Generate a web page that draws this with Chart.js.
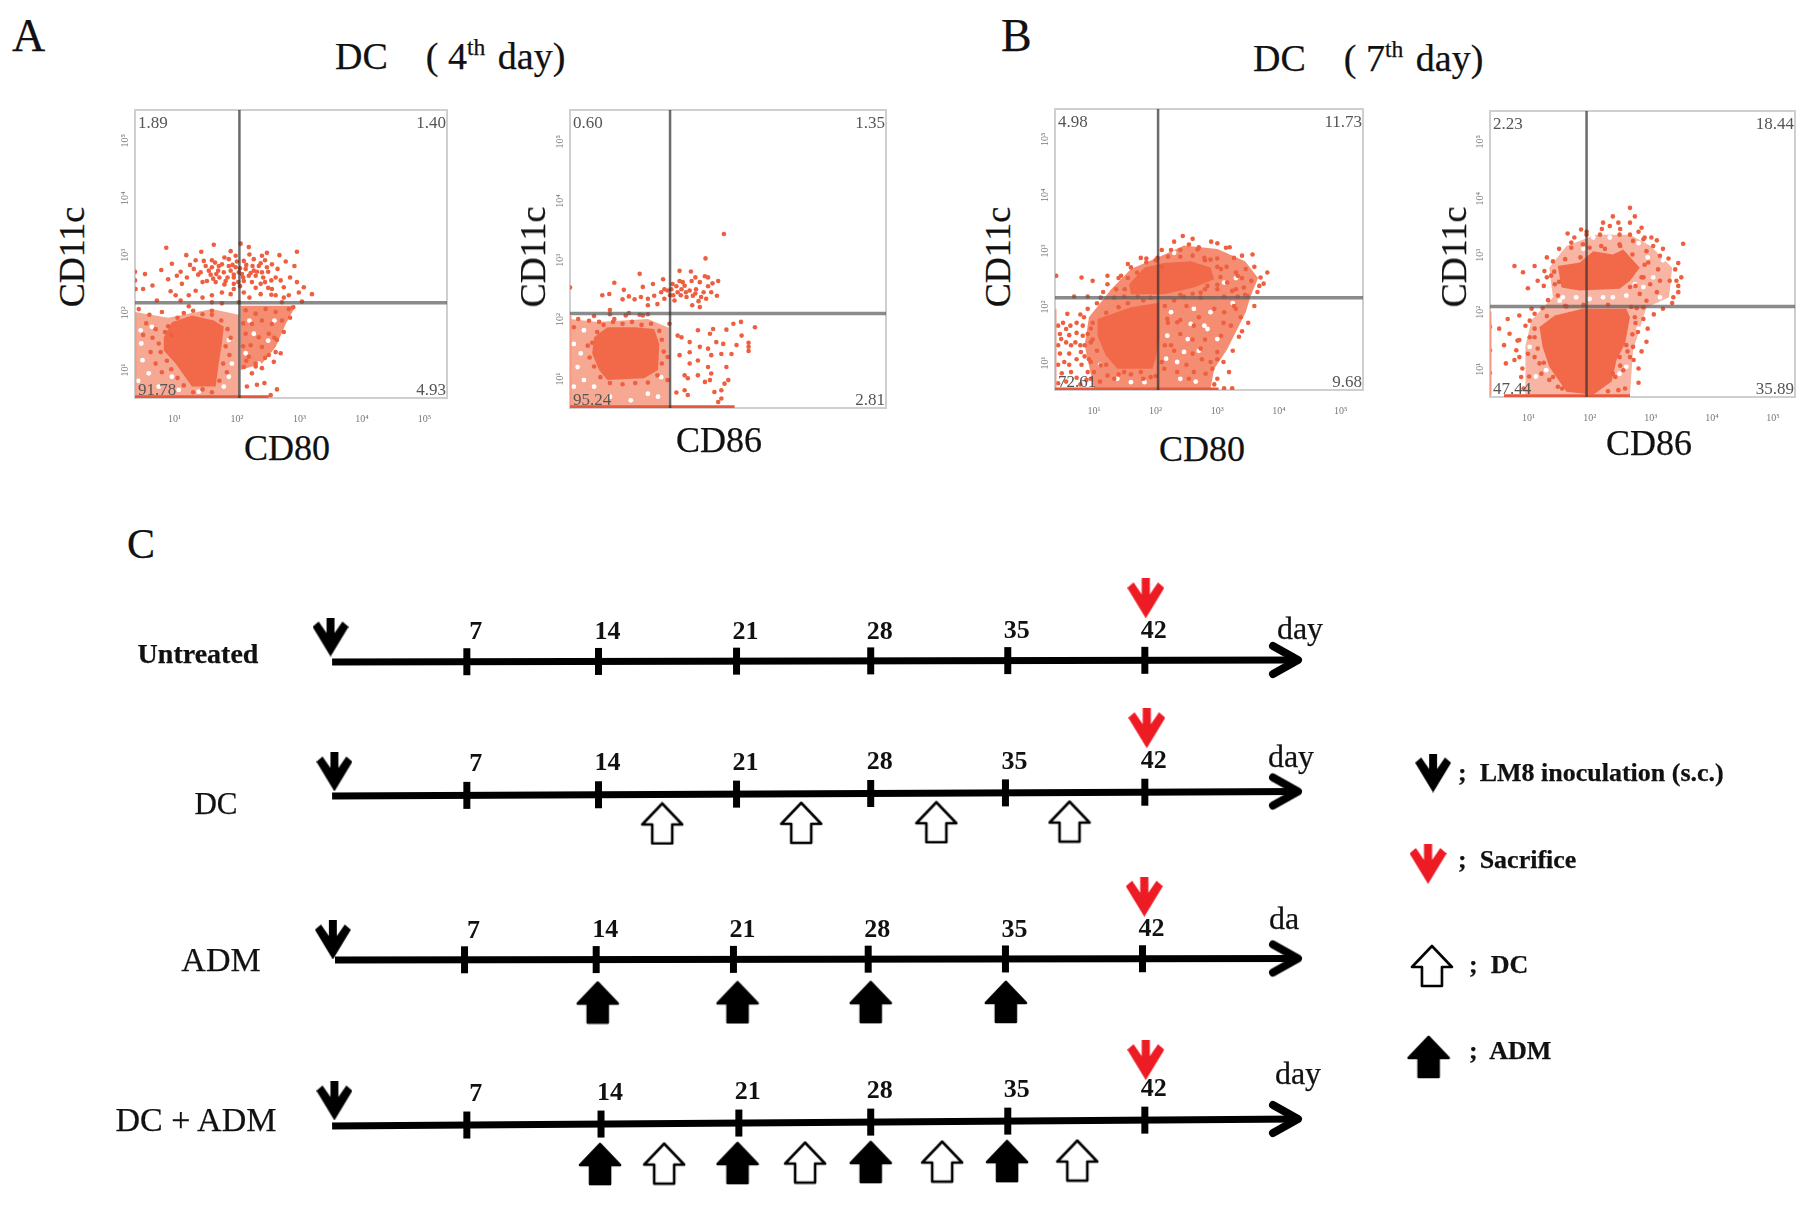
<!DOCTYPE html>
<html>
<head>
<meta charset="utf-8">
<title>DC phenotype and treatment schedule</title>
<script src="https://cdn.jsdelivr.net/npm/chart.js@4"></script>
<style>
  html, body { margin: 0; padding: 0; background: #fff; }
  body { position: relative; width: 1817px; height: 1220px; overflow: hidden; filter: blur(0.6px); }
  canvas { position: absolute; }
  .t { position: absolute; font-family: "Liberation Serif", serif; color: #111; line-height: 1; white-space: pre; -webkit-text-stroke: 0.25px #111; }
  .t sup { font-size: 62%; line-height: 0; margin-right: 3px; }
</style>
</head>
<body>
<script>
// flow plots: all values are log10 fluorescence
var decadeTicks = [1, 2, 3, 4, 5];
var decadeLabels = ["10¹", "10²", "10³", "10⁴", "10⁵"];

var a1Quadrants = ["1.89", "1.40", "91.78", "4.93"];
var a2Quadrants = ["0.60", "1.35", "95.24", "2.81"];
var b1Quadrants = ["4.98", "11.73", "72.61", "9.68"];
var b2Quadrants = ["2.23", "18.44", "47.44", "35.89"];

var a1Gate = [2.04, 2.06];
var a2Gate = [1.95, 1.99];
var b1Gate = [2.04, 2.05];
var b2Gate = [1.95, 1.99];

var a1Core = [[.83,1.46],[.96,1.72],[1.28,1.84],[1.63,1.75],[1.79,1.64],[1.76,1.35],[1.71,1.0],[1.66,.6],[1.28,.6],[1.02,1.0],[.83,1.23],[.83,1.46]];
var a1Pale = [[.37,.4],[2.03,.4],[2.03,1.85],[1.6,1.95],[.9,1.8],[.37,1.9],[.37,.4]];
var a1Wing = [[2.06,2.01],[2.94,2.01],[2.78,1.69],[2.62,1.29],[2.4,1.0],[2.06,.89],[2.06,2.01]];
var a1Gaps = [[.46,1.58],[.47,1.35],[.49,1.06],[.64,1.64],[.59,.83],[.75,.6],[.96,.77],[1.87,1.41],[1.92,1.0],[1.87,.77],[1.79,.6],[1.39,.51],[1.07,.54],[2.14,1.18],[2.35,1.0],[2.27,1.52],[2.6,1.75],[2.5,1.4],[2.2,1.75],[.42,.7]];
var a1Events = [[.87,3.02],[1.19,2.89],[1.43,2.95],[1.63,3.07],[1.9,2.96],[2.06,3.09],[2.19,3.03],[2.48,2.93],[2.68,2.89],[2.96,2.95],
  [.79,2.63],[.96,2.74],[1.34,2.8],[1.47,2.79],[1.65,2.76],[1.76,2.73],[1.87,2.82],[1.98,2.88],[2.11,2.79],[2.27,2.82],[2.4,2.88],[2.56,2.73],[2.78,2.78],[2.92,2.7],
  [.53,2.56],[.65,2.36],[.9,2.47],[1.04,2.53],[1.2,2.5],[1.31,2.65],[1.42,2.59],[1.55,2.62],[1.67,2.56],[1.79,2.59],[1.9,2.62],[2.03,2.59],[2.14,2.65],[2.27,2.62],[2.4,2.59],[2.48,2.68],[2.62,2.5],[2.96,2.42],
  [.94,2.26],[1.12,2.39],[1.34,2.27],[1.52,2.44],[1.66,2.42],[1.82,2.44],[1.95,2.39],[2.11,2.44],[2.24,2.42],[2.38,2.39],[2.56,2.3],[2.75,2.33],[3.07,2.33],[3.2,2.21],
  [1.02,2.19],[1.23,2.19],[1.6,2.19],[1.76,2.24],[1.9,2.21],[2.11,2.24],[2.38,2.21],[2.62,2.19],[2.83,2.19],[2.99,2.24],[.72,2.1],[1.6,2.07],[1.76,2.05],[2.03,2.07],[2.72,2.07],[3.04,2.08],
  [1.71,2.7],[1.87,2.7],[1.98,2.68],[1.6,2.68],[2.35,2.7],[2.3,2.53],[2.08,2.56],[2.19,2.53],
  [1.5,2.7],[1.58,2.55],[1.7,2.62],[1.72,2.5],[1.85,2.5],[1.93,2.72],[1.95,2.55],[2.0,2.78],[2.05,2.66],[2.1,2.5],[2.15,2.72],[2.22,2.58],[2.25,2.7],[2.32,2.6],[2.38,2.75],[2.42,2.5],[2.5,2.6],[2.55,2.45],[1.8,2.38],[1.62,2.48],[1.95,2.3],[2.05,2.35],[2.3,2.32],[2.5,2.32],
  [1.1,2.6],[1.25,2.72],[1.38,2.55],[1.45,2.42],[1.6,2.8],[1.8,2.85],[2.2,2.9],[2.45,2.8],[2.65,2.65],[2.7,2.45],[2.85,2.5],[2.45,2.42],[2.55,2.2],[2.75,2.15],[2.2,2.15],[1.45,2.15],[1.1,2.1],[.5,2.3],[1.95,2.5],[2.02,2.42],
  [2.64,1.41],[2.59,1.03],[2.4,.92],[2.24,.83],[2.16,.6],[2.32,.63],[2.44,.66],[2.64,.55],[2.11,.94],[2.54,.45],[2.3,1.0],[2.19,1.12],[2.51,1.15],[2.7,1.18],
  [2.14,1.93],[2.3,1.87],[2.46,1.95],[2.62,1.9],[2.83,1.95],[2.24,1.69],[2.4,1.75],[2.56,1.69],[2.14,1.52],[2.35,1.46],[2.51,1.52],[2.22,1.32],[2.4,1.29],
  [2.9,1.98],[2.85,1.8],[2.72,1.75],[2.75,1.55],[2.6,1.45],[2.62,1.2],[2.45,1.1],[2.3,.95],[2.15,1.05],[2.1,1.7],[2.1,1.3],
  [.85,1.55],[.9,1.65],[1.05,1.8],[1.15,1.88],[1.3,1.92],[1.45,1.86],[1.6,1.85],[1.75,1.75],[1.85,1.6],[1.9,1.45],[1.82,1.3],[1.88,1.15],[1.78,1.0],[1.84,.85],[1.72,.7],[1.6,.5],[1.45,.55],[1.3,.5],[1.15,.62],[1.05,.75],[.95,.9],[.88,1.05],[.78,1.2],[.75,1.35],[.95,1.5],[.7,1.6],[.65,1.45],[.62,1.2],[.7,1.0],[.8,.85],[.55,1.7],[.5,1.5],
  [.37,2.6],[.37,2.45],[.38,2.3],[.43,1.95],[.6,1.85],[.8,1.9],[1.23,2.0],[1.6,1.92]];
var a1Strip = [[.37,.42],[2.51,.42]];
var a1Edge = [[.37,.42],[.37,1.9]];

var a2Core = [[.75,1.59],[.96,1.76],[1.39,1.76],[1.7,1.73],[1.78,1.48],[1.76,1.04],[1.54,.9],[.96,.87],[.83,1.04],[.72,1.32],[.75,1.59]];
var a2Pale = [[.37,.4],[1.93,.4],[1.93,1.75],[1.6,1.9],[.8,1.85],[.37,1.9],[.37,.4]];
var a2Gaps = [[.43,1.48],[.49,1.09],[.43,.76],[.59,.87],[.75,.76],[1.0,.59],[1.33,.53],[1.6,.64],[1.76,.59],[.59,1.71],[1.81,.92],[.54,1.32]];
var a2Events = [[2.8,3.33],[2.51,2.92],[1.47,2.66],[1.07,2.51],[1.22,2.39],[.88,2.3],[.99,2.32],[1.2,2.23],[.37,2.43],[1.68,2.49],[1.52,2.44],[1.39,2.23],[1.49,2.27],[1.6,2.24],[1.7,2.29],[1.84,2.57],[1.81,2.35],[1.86,2.24],[1.91,2.38],[1.99,2.49],[2.1,2.71],[2.28,2.7],[2.1,2.54],[2.18,2.46],[2.29,2.54],[2.42,2.52],[2.55,2.6],[2.71,2.54],[2.07,2.35],[2.21,2.27],[2.31,2.29],[2.44,2.27],[2.52,2.24],[2.69,2.29],[2.02,2.21],[2.3,2.13],[2.42,2.1],[1.6,2.13],[1.47,1.97],[1.97,2.4],[2.13,2.4],[2.26,2.38],[2.36,2.4],[1.86,2.4],
  [2.0,2.3],[2.12,2.3],[2.2,2.35],[2.35,2.33],[2.4,2.2],[2.48,2.35],[2.55,2.45],[2.6,2.35],[1.95,2.3],[2.05,2.45],[2.15,2.52],[2.35,2.6],[2.5,2.62],[2.62,2.5],[1.75,2.15],[1.3,2.28],[1.0,2.05],
  [2.07,1.62],[2.13,1.59],[2.26,1.51],[2.39,1.71],[2.58,1.65],[2.63,1.73],[2.84,1.72],[2.95,1.82],[3.07,1.85],[3.08,1.62],[3.29,1.76],[3.19,1.43],[3.0,1.46],[2.79,1.48],[2.68,1.51],[2.55,1.4],[2.42,1.43],[2.26,1.34],[2.1,1.29],[2.26,1.15],[2.39,1.2],[2.76,1.31],[2.92,1.31],[2.6,1.29],[2.55,1.09],[2.6,.98],[2.84,1.09],[2.87,.87],[2.81,.81],[2.5,.84],[2.58,.87],[2.39,.95],[2.18,.95],[2.23,.9],[2.05,.66],[2.18,.7],[2.23,.62],[2.65,.67],[2.76,.7],[2.71,.5],[2.76,.56],
  [.67,1.87],[.83,1.85],[1.07,1.9],[1.25,1.96],[1.52,1.96],[.43,1.76],[1.94,1.82],[1.91,1.26],[1.91,.87],[3.19,1.5],[3.19,1.36],
  [.72,1.5],[.8,1.68],[.9,1.8],[1.05,1.85],[1.2,1.82],[1.35,1.85],[1.5,1.8],[1.65,1.82],[1.78,1.7],[1.82,1.55],[1.85,1.35],[1.82,1.15],[1.75,.95],[1.6,.83],[1.4,.82],[1.2,.8],[1.0,.82],[.85,.92],[.75,1.1],[.68,1.25],[.65,1.45],[.5,1.9],[.75,1.95],[1.0,1.98],[1.3,2.0],[1.6,1.98]];
var a2Strip = [[.37,.42],[2.97,.42]];
var a2Edge = [[.37,.42],[.37,1.95]];

var b1CoreLow = [[1.06,1.67],[1.6,1.88],[2.06,1.96],[2.06,1.31],[2.0,.96],[1.95,.78],[1.38,.78],[1.19,1.02],[1.06,1.37],[1.06,1.67]];
var b1CoreHigh = [[1.57,2.29],[1.82,2.59],[2.14,2.67],[2.57,2.7],[2.89,2.59],[2.95,2.38],[2.62,2.23],[2.14,2.11],[1.6,2.11],[1.57,2.29]];
var b1Pale = [[1.0,.43],[2.89,.43],[2.95,.78],[3.16,1.13],[3.46,1.79],[3.54,2.08],[3.66,2.4],[3.45,2.7],[3.0,2.92],[2.46,2.98],[2.08,2.79],[1.6,2.56],[1.28,2.2],[.92,1.7],[.85,1.2],[1.0,.43]];
var b1Gaps = [[2.57,1.58],[2.79,1.55],[2.19,1.37],[2.46,1.08],[2.35,.9],[2.17,.96],[2.52,1.31],[2.89,1.79],[2.84,1.49],[3.11,2.32],[2.79,2.44],[3.0,1.31],[2.62,1.85],[2.25,1.79],[1.38,.6],[1.6,.54],[1.82,.54],[2.7,1.1],[2.4,.6],[2.65,.55],[3.25,1.95],[3.3,2.4],[2.3,2.85],[1.1,.85]];
var b1Events = [[2.44,3.15],[2.54,3.0],[2.68,2.91],[3.0,3.02],[3.14,2.94],[3.57,2.82],[3.81,2.5],[3.7,2.41],[3.68,2.26],[3.46,2.56],[3.33,2.44],[3.43,2.23],[3.27,2.76],[2.89,2.73],[2.79,2.76],[2.25,2.9],[2.03,2.76],[1.76,2.76],[1.6,2.59],[1.44,2.44],[1.22,2.44],[.98,2.35],[.8,2.41],[1.22,2.29],[1.36,2.2],[.39,2.44],
  [.68,2.07],[.9,2.07],[1.11,2.05],[1.33,2.05],[1.49,2.07],[1.71,2.07],[1.92,2.05],[2.46,2.07],[2.73,2.05],[3.11,2.07],[3.33,2.07],[3.49,2.08],
  [3.06,2.56],[3.16,2.32],[3.24,2.17],[3.0,2.2],[2.84,2.26],[2.73,2.14],[3.27,1.9],[3.38,1.7],[3.11,1.79],[2.95,1.85],[3.22,1.55],[3.06,1.37],[3.0,1.08],[2.89,.9],[2.73,1.14],[2.62,1.55],[2.35,1.61],[2.19,1.67],[2.25,1.2],[2.14,.78],[2.35,.72],[3.19,.72],[2.92,.78],[2.62,.72],[2.54,.6],[2.81,.69],[3.11,.43],[3.24,.43],
  [.57,1.76],[.84,1.7],[.55,1.49],[.82,1.37],[.95,1.25],[.63,1.2],[.47,1.31],[.79,1.08],[.52,.9],[1.11,.84],[.9,.72],[1.22,.66],[1.33,.6],[1.49,.72],[1.76,.72],[1.92,.63],[.63,.72],
  [1.5,2.2],[1.55,2.4],[1.7,2.5],[1.85,2.68],[2.0,2.72],[2.2,2.78],[2.4,2.78],[2.6,2.8],[2.8,2.72],[3.0,2.6],[3.05,2.42],[3.0,2.28],[2.8,2.2],[2.6,2.12],[2.4,2.1],[3.15,2.6],[3.3,2.5],[3.4,2.4],[3.3,2.2],[3.45,2.1],[3.0,2.75],[2.7,2.95],[2.4,2.9],[2.1,2.6],
  [.98,1.6],[1.2,1.78],[1.4,1.88],[1.55,1.95],[1.8,2.0],[2.15,1.9],[2.2,1.6],[2.15,1.2],[2.1,.9],[2.0,.65],[1.8,.6],[1.6,.68],[1.4,.68],[1.2,.85],[1.05,1.1],[.98,1.3],[.95,1.5],
  [2.3,2.0],[2.5,1.9],[2.4,1.65],[2.7,1.7],[2.6,1.3],[2.4,1.4],[2.8,1.3],[2.3,1.1],[2.6,1.05],[2.75,.95],[2.5,.85],[3.1,1.6],[3.3,1.85],
  [3.0,.6],[3.1,.9],[3.25,1.1],[3.35,1.35],[3.5,1.6],[3.6,1.9],[3.65,2.15],[3.75,2.3],[3.6,2.6],[3.4,2.8],[3.2,2.95],[2.9,3.05],[2.6,3.1],[2.3,3.05],[2.1,2.9],[1.85,2.75],[1.55,2.65],[1.4,2.4],[1.15,2.15],[1.05,1.95],[.9,1.85],[.78,1.75],[.9,1.4],[.78,1.2],[.92,.95],[.95,.6],[2.95,.5],[3.0,.95],[3.4,1.45],[3.55,2.35],
  [.42,1.55],[.5,1.6],[.62,1.55],[.72,1.6],[.82,1.55],[.45,1.4],[.6,1.38],[.72,1.42],[.42,1.2],[.55,1.25],[.7,1.25],[.85,1.2],[.45,1.05],[.6,1.05],[.72,.95],[.85,1.0],[.42,.85],[.6,.85],[.8,.85],[.95,.9],[.48,.7],[.72,.62],[.88,.58],[.55,.55],[1.0,.72],[1.1,.55],[.42,.52],[.78,.5]];
var b1Strip = [[.37,.42],[3.02,.42]];
var b1Edge = [[.37,.42],[.37,1.85]];

var b2CoreLow = [[1.18,1.63],[1.43,1.83],[1.89,1.95],[2.6,1.95],[2.66,1.8],[2.58,1.34],[2.44,1.05],[2.36,.67],[2.06,.44],[1.62,.49],[1.34,.93],[1.23,1.28],[1.18,1.63]];
var b2CoreHigh = [[1.48,2.7],[1.84,2.76],[2.06,2.96],[2.38,2.9],[2.55,2.99],[2.82,2.67],[2.66,2.44],[2.49,2.3],[1.84,2.27],[1.54,2.32],[1.48,2.7]];
var b2Pale = [[.95,.44],[2.66,.44],[2.71,1.22],[2.93,1.97],[3.3,2.15],[3.35,2.67],[3.0,3.05],[2.66,3.25],[2.1,3.25],[1.62,3.05],[1.34,2.67],[1.4,2.15],[1.05,1.75],[.95,1.3],[.95,.44]];
var b2Gaps = [[1.56,2.15],[1.78,2.15],[2.0,2.12],[2.22,2.15],[2.38,2.15],[2.6,2.18],[1.51,2.09],[2.06,3.2],[2.33,3.2],[1.73,3.2],[2.74,2.38],[3.04,2.5],[2.88,2.33],[1.12,.76],[1.29,.87],[2.49,.81],[1.02,1.28],[2.6,.93],[2.8,3.1],[3.2,2.8],[1.9,3.0],[3.15,2.15],[2.95,2.85],[2.8,1.6]];
var b2Events = [[2.66,3.72],[2.74,3.57],[2.38,3.57],[2.22,3.46],[2.33,3.4],[2.47,3.46],[2.66,3.46],[2.85,3.37],[1.64,3.27],[1.86,3.34],[1.95,3.25],[2.17,3.25],[2.49,3.25],[2.66,3.25],[3.01,3.2],[3.53,3.09],[1.7,3.11],[1.89,3.08],[2.19,3.05],[2.49,3.08],[2.71,3.14],[2.88,3.17],[3.04,3.05],[2.93,2.96],[3.29,2.83],[3.15,2.88],[2.96,2.76],[3.4,2.64],[3.12,2.64],[3.31,2.44],[3.42,2.44],[3.15,2.44],[3.45,2.24],[3.37,2.15],[3.1,2.24],[2.99,2.38],[2.88,2.5],[2.82,2.21],[2.66,2.33],[2.93,2.09],[.77,2.7],[.91,2.59],[1.1,2.7],[1.26,2.61],[1.15,2.44],[.99,2.31],[1.37,2.53],[1.43,2.38],[1.48,2.18],
  [1.23,1.96],[1.62,1.99],[2.77,1.96],[2.88,1.97],
  [2.74,1.8],[2.88,1.77],[2.79,1.54],[2.93,1.37],[2.6,1.31],[2.66,1.1],[2.49,1.1],[2.55,.87],[2.38,.81],[2.58,.55],[2.47,.52],[2.71,1.28],
  [.85,1.83],[.66,1.77],[.52,1.6],[1.02,1.74],[1.1,1.86],[.69,1.51],[.82,1.39],[.6,1.31],[1.02,1.45],[.8,1.22],[.99,1.16],[.63,.99],[.77,1.05],[1.1,1.1],[.9,.9],[1.01,.76],[1.21,.81],[1.34,.7],[1.48,.58],[1.18,.99],[.37,1.63],[.37,1.22],[.37,.82],
  [1.42,2.6],[1.4,2.78],[1.6,2.82],[1.85,2.85],[2.0,3.02],[2.25,3.0],[2.5,3.05],[2.7,2.9],[2.9,2.72],[2.85,2.5],[2.75,2.35],[1.5,2.42],[1.3,2.5],
  [1.1,1.6],[1.3,1.82],[1.6,2.0],[1.9,2.02],[2.3,2.02],[2.68,1.98],[2.75,1.7],[2.7,1.5],[2.62,1.2],[2.5,.95],[2.42,.75],[2.3,.5],[1.55,.55],[1.4,.75],[1.25,1.0],[1.15,1.25],[1.1,1.45],
  [2.8,.9],[2.85,1.2],[2.95,1.6],[3.05,1.85],[3.35,2.05],[3.45,2.35],[3.45,2.75],[3.2,3.0],[3.1,3.15],[2.8,3.3],[2.5,3.35],[2.2,3.35],[1.95,3.3],[1.75,3.2],[1.5,3.0],[1.3,2.85],[1.25,2.35],[1.32,2.1],[1.05,1.95],[.95,1.65],[.85,1.4],[.85,1.1],[.88,.75],[.92,.55],[2.8,.65],[2.72,1.05],[3.2,1.95],[3.5,2.5],[2.9,3.2],[1.7,3.02]];
var b2Strip = [[.6,.42],[2.66,.42]];
var b2Edge = [[.37,.42],[.37,1.9]];

// treatment schedule, values in days
var laneNames = ["Untreated", "DC", "ADM", "DC + ADM"];
var dayLabels = ["7", "14", "21", "28", "35", "42"];
var untreatedTicks = [6.98, 13.8, 20.95, 27.9, 35.0, 42.1];
var dcTicks = [6.98, 13.8, 20.95, 27.9, 34.88, 42.1];
var admTicks = [6.86, 13.68, 20.79, 27.77, 34.88, 41.98];
var comboTicks = [6.98, 13.93, 21.07, 27.9, 35.0, 42.1];
var inoculationDays = [-0.08, 0.12, 0.04, 0.12];
var sacrificeDays = [42.15, 42.2, 42.07, 42.15];
var dcOnlyDoses = [17.1, 24.3, 31.3, 38.2];
var comboDcDoses = [17.2, 24.5, 31.6, 38.6];
var admOnlyDoses = [13.76, 21.0, 27.9, 34.9];
var comboAdmDoses = [13.88, 21.0, 27.9, 34.96];

// layout
var RED = "#f2694a";
var SERIF = '"Liberation Serif", serif';
var xRange = [0.37, 5.36];
var yRange = [0.4, 5.42];
var pad = 6;

function addText(html, x, y, size, weight, anchor, rotate) {
  var el = document.createElement("div");
  el.className = "t";
  el.innerHTML = html;
  el.style.left = x + "px";
  el.style.top = y + "px";
  el.style.fontSize = size + "px";
  if (weight) el.style.fontWeight = weight;
  el.style.transform = anchor === "c" ? "translate(-50%,-50%)" + (rotate ? " rotate(-90deg)" : "") : "translateY(-50%)";
  document.body.appendChild(el);
}

function addCanvas(x, y, w, h) {
  var c = document.createElement("canvas");
  c.width = w;
  c.height = h;
  c.style.left = x + "px";
  c.style.top = y + "px";
  document.body.appendChild(c);
  return c;
}

function toPoints(list) {
  return list.map(function (p) { return { x: p[0], y: p[1] }; });
}

function region(list, color, order) {
  return { data: toPoints(list), showLine: true, fill: "shape", backgroundColor: color, borderWidth: 0, pointRadius: 0, order: order };
}

var framePlugin = {
  id: "frame",
  beforeDatasetsDraw: function (chart) {
    var a = chart.chartArea;
    var ctx = chart.ctx;
    ctx.save();
    ctx.strokeStyle = "#cfcfcf";
    ctx.lineWidth = 2;
    ctx.strokeRect(a.left, a.top, a.right - a.left, a.bottom - a.top);
    ctx.restore();
  }
};

var quadrantPlugin = {
  id: "quadrants",
  afterDatasetsDraw: function (chart, args, opts) {
    var a = chart.chartArea;
    var ctx = chart.ctx;
    ctx.save();
    ctx.font = "17px " + SERIF;
    ctx.fillStyle = "#555";
    ctx.textBaseline = "alphabetic";
    ctx.textAlign = "left";
    ctx.fillText(opts.labels[0], a.left + 3, a.top + 18);
    ctx.fillText(opts.labels[2], a.left + 3, a.bottom - 3);
    ctx.textAlign = "right";
    ctx.fillText(opts.labels[1], a.right - 1, a.top + 18);
    ctx.fillText(opts.labels[3], a.right - 1, a.bottom - 3);
    ctx.restore();
  }
};

function flowPlot(p) {
  var axisW = 28, axisH = 28;
  var boxW = p.box[2] - p.box[0];
  var boxH = p.box[3] - p.box[1];
  var canvas = addCanvas(p.box[0] - axisW, p.box[1] - pad, axisW + boxW + pad, pad + boxH + axisH);
  var datasets = [];
  p.pale.forEach(function (r) { datasets.push(region(r, p.paleColor, 50)); });
  (p.mid || []).forEach(function (r) { datasets.push(region(r, "#f58d72", 40)); });
  datasets.push({ data: toPoints(p.gaps), pointRadius: 2.4, pointBackgroundColor: "#fff", pointBorderWidth: 0, order: 35 });
  p.core.forEach(function (r) { datasets.push(region(r, RED, 30)); });
  datasets.push({ data: toPoints(p.events), pointRadius: 2.3, pointBackgroundColor: "#ee5f40", pointBorderWidth: 0, order: 20 });
  datasets.push({ data: toPoints(p.strip), showLine: true, borderColor: "#e8583c", borderWidth: 3, pointRadius: 0, order: 15 });
  datasets.push({ data: toPoints(p.edge), showLine: true, borderColor: "#f29a84", borderWidth: 3, pointRadius: 0, order: 16 });
  datasets.push({ data: [{ x: p.gate[0], y: yRange[0] }, { x: p.gate[0], y: yRange[1] }], showLine: true, borderColor: "rgba(50,50,50,.72)", borderWidth: 2.5, pointRadius: 0, order: 10 });
  datasets.push({ data: [{ x: xRange[0], y: p.gate[1] }, { x: xRange[1], y: p.gate[1] }], showLine: true, borderColor: "rgba(90,90,90,.7)", borderWidth: 3.5, pointRadius: 0, order: 10 });

  function axis(range, size, showTicks, rotated) {
    return {
      type: "linear",
      min: range[0],
      max: range[1],
      grid: { display: false },
      border: { display: false },
      afterBuildTicks: function (s) { s.ticks = decadeTicks.map(function (v) { return { value: v }; }); },
      afterFit: function (s) {
        if (rotated) s.width = size; else s.height = size;
      },
      ticks: {
        display: showTicks,
        autoSkip: false,
        color: "#777",
        padding: rotated ? 2 : 7,
        minRotation: rotated ? 90 : 0,
        maxRotation: rotated ? 90 : 0,
        font: { family: SERIF, size: 10 },
        callback: function (v) { return decadeLabels[decadeTicks.indexOf(v)]; }
      }
    };
  }

  new Chart(canvas, {
    type: "scatter",
    data: { datasets: datasets },
    plugins: [framePlugin, quadrantPlugin],
    options: {
      responsive: false,
      animation: false,
      layout: { autoPadding: false, padding: { top: pad, right: pad, left: 0, bottom: 0 } },
      plugins: { legend: { display: false }, tooltip: { enabled: false }, quadrants: { labels: p.quad } },
      scales: {
        x: axis(xRange, axisH, p.xTicks, false),
        y: axis(yRange, axisW, true, true)
      }
    }
  });
}

flowPlot({ box: [135, 108, 447, 398], xTicks: true, quad: a1Quadrants, gate: a1Gate,
  core: [a1Core], pale: [a1Pale], mid: [a1Wing], paleColor: "#f6a893", gaps: a1Gaps, events: a1Events, strip: a1Strip, edge: a1Edge });
flowPlot({ box: [570, 108, 886, 408], xTicks: false, quad: a2Quadrants, gate: a2Gate,
  core: [a2Core], pale: [a2Pale], paleColor: "#f6a893", gaps: a2Gaps, events: a2Events, strip: a2Strip, edge: a2Edge });
flowPlot({ box: [1055, 107, 1363, 390], xTicks: true, quad: b1Quadrants, gate: b1Gate,
  core: [b1CoreLow, b1CoreHigh], pale: [b1Pale], paleColor: "#f58d72", gaps: b1Gaps, events: b1Events, strip: b1Strip, edge: b1Edge });
flowPlot({ box: [1490, 109, 1795, 397], xTicks: true, quad: b2Quadrants, gate: b2Gate,
  core: [b2CoreLow, b2CoreHigh], pale: [b2Pale], paleColor: "#f8b5a3", gaps: b2Gaps, events: b2Events, strip: b2Strip, edge: b2Edge });

addText("CD80", 287, 448, 36, null, "c");
addText("CD86", 719, 440, 36, null, "c");
addText("CD80", 1202, 449, 36, null, "c");
addText("CD86", 1649, 443, 36, null, "c");
addText("CD11c", 72, 257, 36, null, "c", true);
addText("CD11c", 533, 257, 36, null, "c", true);
addText("CD11c", 998, 257, 36, null, "c", true);
addText("CD11c", 1454, 257, 36, null, "c", true);

addText("A", 12, 36, 46);
addText("B", 1001, 36, 46);
addText("C", 127, 544, 42);
addText("DC    ( 4<sup>th</sup> day)", 335, 56, 38);
addText("DC    ( 7<sup>th</sup> day)", 1253, 58, 38);

// arrow glyphs used as point styles
function glyph(w, h, draw) {
  var c = document.createElement("canvas");
  c.width = w;
  c.height = h;
  var g = c.getContext("2d");
  g.lineJoin = "round";
  draw(g, w, h);
  return c;
}

function downArrow(color, w, h) {
  return glyph(w, h, function (g) {
    g.fillStyle = color;
    g.beginPath();
    g.moveTo(w * .5, h);
    g.lineTo(0, h * .24);
    g.lineTo(w * .17, h * .1);
    g.lineTo(w * .39, h * .4);
    g.lineTo(w * .39, 0);
    g.lineTo(w * .61, 0);
    g.lineTo(w * .61, h * .4);
    g.lineTo(w * .83, h * .1);
    g.lineTo(w, h * .24);
    g.closePath();
    g.fill();
  });
}

function upArrow(filled) {
  return glyph(44, 44, function (g) {
    g.beginPath();
    g.moveTo(22, 2);
    g.lineTo(42, 23);
    g.lineTo(32, 23);
    g.lineTo(32, 42);
    g.lineTo(12, 42);
    g.lineTo(12, 23);
    g.lineTo(2, 23);
    g.closePath();
    g.fillStyle = filled ? "#000" : "#fff";
    g.fill();
    g.strokeStyle = "#000";
    g.lineWidth = 2.6;
    g.stroke();
  });
}

var chevron = glyph(36, 40, function (g) {
  g.strokeStyle = "#000";
  g.lineWidth = 8;
  g.lineCap = "round";
  g.beginPath();
  g.moveTo(5, 6);
  g.lineTo(30, 20);
  g.lineTo(5, 34);
  g.stroke();
});

var blackDown = downArrow("#000", 36, 39);
var redDown = downArrow("#ed1c24", 37, 40);
var openUp = upArrow(false);
var solidUp = upArrow(true);

// schedule chart: x is the day, y counts pixels down from the top of this canvas
var scheduleTop = 510;
var pxPerDay = 19.305;
var dayZeroPx = 332.1;
var laneY = [152, 286, 450, 616];
var laneDrop = [-2, -4.5, -1.5, -7];
var laneStartDay = [0, 0, 0.15, 0];
var arrowTipDay = 50.24;
var laneTicks = [untreatedTicks, dcTicks, admTicks, comboTicks];
var inocOffset = [-25, -24, -20, -25];
var sacOffset = [-62, -64, -62, -60];
var dcOffset = [0, 29, 0, 40];
var admOffset = [0, 0, 43, 40];
var labelOffset = [-29, -31, -29, -31];
var dayWordPx = [[1300, 628], [1291, 756], [1284, 918], [1298, 1073]];
var dayWordText = ["day", "day", "da", "day"];

function laneAt(i, day) {
  return laneY[i] + laneDrop[i] * day / arrowTipDay;
}

function marks(i, days, offset) {
  return days.map(function (d) { return { x: d, y: laneAt(i, d) + offset }; });
}

function glyphSet(data, image) {
  return { data: data, pointStyle: image, pointRadius: 8, order: 1 };
}

var scheduleSets = [];
laneNames.forEach(function (name, i) {
  scheduleSets.push({ data: [{ x: laneStartDay[i], y: laneAt(i, laneStartDay[i]) }, { x: arrowTipDay - 0.2, y: laneAt(i, arrowTipDay) }],
    showLine: true, borderColor: "#000", borderWidth: 7, pointRadius: 0, order: 5 });
  scheduleSets.push({ data: marks(i, laneTicks[i], 0), pointStyle: "line", pointRotation: 90, pointRadius: 13.5, pointBorderWidth: 7, pointBorderColor: "#000", order: 4 });
  scheduleSets.push(glyphSet([{ x: arrowTipDay - 0.83, y: laneAt(i, arrowTipDay) }], chevron));
  scheduleSets.push(glyphSet(marks(i, [inoculationDays[i]], inocOffset[i]), blackDown));
  scheduleSets.push(glyphSet(marks(i, [sacrificeDays[i]], sacOffset[i]), redDown));
});
scheduleSets.push(glyphSet(marks(1, dcOnlyDoses, dcOffset[1]), openUp));
scheduleSets.push(glyphSet(marks(3, comboDcDoses, dcOffset[3]), openUp));
scheduleSets.push(glyphSet(marks(2, admOnlyDoses, admOffset[2]), solidUp));
scheduleSets.push(glyphSet(marks(3, comboAdmDoses, admOffset[3]), solidUp));

// key on the right, same glyphs on the same scales
var keyDays = [57.03, 56.77, 56.97, 56.8];
var keyY = [263, 354, 456, 547];
var keyGlyphs = [blackDown, redDown, openUp, solidUp];
keyGlyphs.forEach(function (g, i) {
  scheduleSets.push(glyphSet([{ x: keyDays[i], y: keyY[i] }], g));
});

var dayLabelPlugin = {
  id: "dayLabels",
  afterDatasetsDraw: function (chart) {
    var ctx = chart.ctx;
    ctx.save();
    ctx.font = "bold 26px " + SERIF;
    ctx.fillStyle = "#111";
    ctx.textAlign = "center";
    ctx.textBaseline = "middle";
    laneNames.forEach(function (name, i) {
      laneTicks[i].forEach(function (d, k) {
        ctx.fillText(dayLabels[k], chart.scales.x.getPixelForValue(d) + 9, chart.scales.y.getPixelForValue(laneAt(i, d) + labelOffset[i]));
      });
    });
    ctx.restore();
  }
};

new Chart(addCanvas(0, scheduleTop, 1817, 710), {
  type: "scatter",
  data: { datasets: scheduleSets },
  plugins: [dayLabelPlugin],
  options: {
    responsive: false,
    animation: false,
    layout: { autoPadding: false, padding: 0 },
    plugins: { legend: { display: false }, tooltip: { enabled: false } },
    scales: {
      x: { type: "linear", display: false, min: -dayZeroPx / pxPerDay, max: (1817 - dayZeroPx) / pxPerDay },
      y: { type: "linear", display: false, min: 0, max: 710, reverse: true }
    }
  }
});

addText(laneNames[0], 198, 654, 28, "bold", "c");
addText(laneNames[1], 216, 803, 31, null, "c");
addText(laneNames[2], 221, 960, 34, null, "c");
addText(laneNames[3], 196, 1120, 34, null, "c");
dayWordText.forEach(function (w, i) {
  addText(w, dayWordPx[i][0], dayWordPx[i][1], 32, null, "c");
});

addText(";  LM8 inoculation (s.c.)", 1458, 773, 26, "bold");
addText(";  Sacrifice", 1458, 860, 26, "bold");
addText(";  DC", 1469, 965, 26, "bold");
addText(";  ADM", 1469, 1051, 26, "bold");
</script>
</body>
</html>
